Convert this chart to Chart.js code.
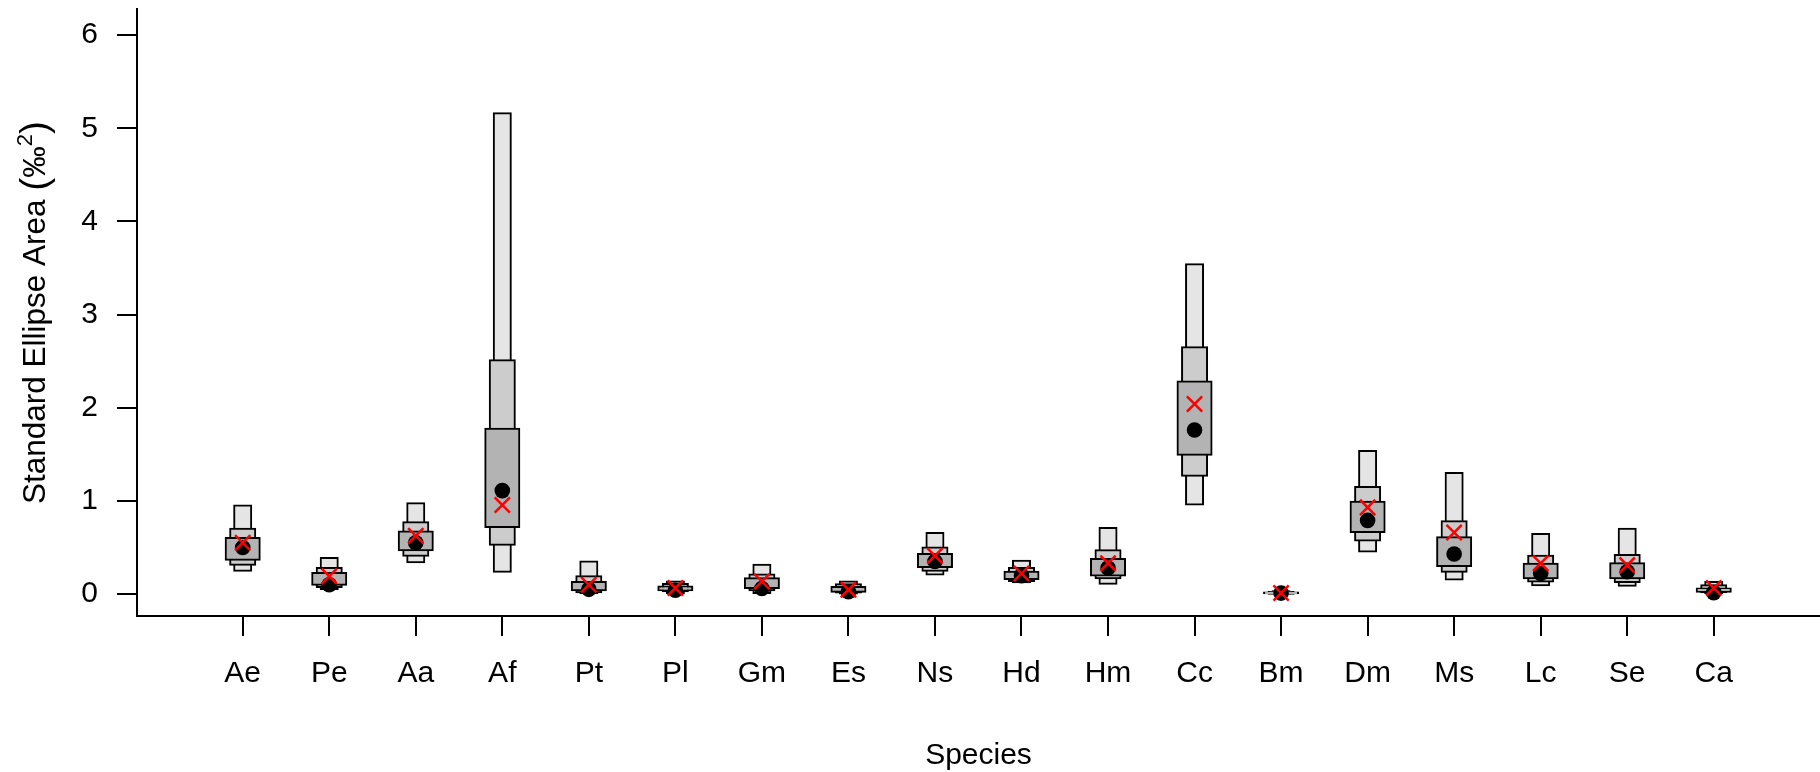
<!DOCTYPE html>
<html>
<head>
<meta charset="utf-8">
<title>Standard Ellipse Area by species</title>
<script src="https://cdn.jsdelivr.net/npm/chart.js@4/dist/chart.umd.min.js"></script>
<style>
  html, body { margin: 0; padding: 0; background: #ffffff; overflow: hidden; }
  #wrap { width: 1820px; height: 772px; position: relative; }
  #sea { display: block; }
</style>
</head>
<body>
<div id="wrap"><canvas id="sea" width="1820" height="772"></canvas></div>
<script>
// Species codes along the x axis
const categories = ['Ae', 'Pe', 'Aa', 'Af', 'Pt', 'Pl', 'Gm', 'Es', 'Ns', 'Hd', 'Hm', 'Cc', 'Bm', 'Dm', 'Ms', 'Lc', 'Se', 'Ca'];

// Bayesian SEA credible intervals (‰²)
const ci95Low  = [0.25, 0.054, 0.34, 0.24, 0.01, 0.01, 0.01, 0.005, 0.21, 0.125, 0.11, 0.96, 0.000, 0.457, 0.155, 0.095, 0.09, 0.01];
const ci95High = [0.95, 0.386, 0.975, 5.16, 0.35, 0.135, 0.314, 0.135, 0.655, 0.357, 0.71, 3.54, 0.030, 1.535, 1.30, 0.645, 0.70, 0.13];
const ci75Low  = [0.314, 0.075, 0.41, 0.53, 0.02, 0.03, 0.04, 0.015, 0.25, 0.14, 0.17, 1.27, 0.004, 0.575, 0.24, 0.135, 0.13, 0.02];
const ci75High = [0.70, 0.28, 0.77, 2.51, 0.19, 0.107, 0.21, 0.105, 0.50, 0.28, 0.47, 2.65, 0.022, 1.15, 0.78, 0.41, 0.42, 0.095];
const ci50Low  = [0.368, 0.10, 0.47, 0.72, 0.04, 0.04, 0.064, 0.025, 0.29, 0.16, 0.20, 1.494, 0.007, 0.665, 0.30, 0.17, 0.17, 0.025];
const ci50High = [0.60, 0.225, 0.67, 1.775, 0.13, 0.08, 0.17, 0.075, 0.43, 0.24, 0.375, 2.28, 0.016, 0.99, 0.61, 0.325, 0.33, 0.06];

// Posterior mode of SEA (black dot) and sample-size corrected SEAc (red cross)
const modeSEA    = [0.50, 0.10, 0.55, 1.11, 0.05, 0.04, 0.06, 0.025, 0.35, 0.196, 0.28, 1.76, 0.01, 0.79, 0.43, 0.22, 0.24, 0.015];
const sampleSEAc = [0.55, 0.19, 0.625, 0.955, 0.10, 0.065, 0.135, 0.045, 0.41, 0.22, 0.33, 2.04, 0.01, 0.93, 0.66, 0.33, 0.31, 0.065];

// Y axis tick values
const yTickValues = [0, 1, 2, 3, 4, 5, 6];

const FAMILY = '"Liberation Sans", Arial, Helvetica, sans-serif';
const FONT = { family: FAMILY, size: 30 };

const intervalBars = (label, lows, highs, fill, width, order) => ({
  type: 'bar',
  label,
  data: categories.map((_, i) => ({ x: i + 1, y: [lows[i], highs[i]] })),
  backgroundColor: fill,
  borderColor: '#000000',
  borderWidth: 2,
  borderSkipped: false,
  inflateAmount: 1,
  barThickness: width,
  grouped: false,
  order
});

const markers = (label, values, style) => Object.assign({
  type: 'line',
  label,
  data: categories.map((_, i) => ({ x: i + 1, y: values[i] })),
  showLine: false
}, style);

// Y axis title with enlarged brackets and a superscript exponent
const yTitlePlugin = {
  id: 'yTitle',
  afterDraw(chart) {
    const { ctx, chartArea } = chart;
    const parts = [
      { text: 'Standard Ellipse Area ', size: 31.5, dy: 0 },
      { text: '(', size: 39, dy: 2 },
      { text: '‰', size: 31.5, dy: 0 },
      { text: '2', size: 22, dy: -13.5 },
      { text: ')', size: 39, dy: 2 }
    ];
    ctx.save();
    let total = 0;
    parts.forEach((p) => {
      ctx.font = `${p.size}px ${FAMILY}`;
      p.w = ctx.measureText(p.text).width;
      total += p.w;
    });
    ctx.translate(34, (chartArea.top + chartArea.bottom) / 2);
    ctx.rotate(-Math.PI / 2);
    ctx.fillStyle = '#000000';
    ctx.textAlign = 'left';
    ctx.textBaseline = 'alphabetic';
    let x = -total / 2;
    parts.forEach((p) => {
      ctx.font = `${p.size}px ${FAMILY}`;
      ctx.fillText(p.text, x, 11.2 + p.dy);
      x += p.w;
    });
    ctx.restore();
  }
};

new Chart(document.getElementById('sea'), {
  type: 'bar',
  data: {
    datasets: [
      markers('SEAc', sampleSEAc, {
        pointStyle: 'crossRot', pointRadius: 10.8, pointBorderColor: '#FF0000',
        pointBorderWidth: 2.5, pointBackgroundColor: '#FF0000', order: 0
      }),
      markers('Mode', modeSEA, {
        pointStyle: 'circle', pointRadius: 7.8, pointBackgroundColor: '#000000',
        pointBorderWidth: 0, pointBorderColor: '#000000', order: 1
      }),
      intervalBars('50%', ci50Low, ci50High, '#B3B3B3', 34, 2),
      intervalBars('75%', ci75Low, ci75High, '#CCCCCC', 25, 3),
      intervalBars('95%', ci95Low, ci95High, '#E5E5E5', 17, 4)
    ]
  },
  options: {
    responsive: false,
    animation: false,
    events: [],
    layout: { autoPadding: false, padding: { top: 9, right: 0, bottom: 0, left: 0 } },
    plugins: { legend: { display: false }, tooltip: { enabled: false } },
    scales: {
      x: {
        type: 'linear',
        offset: false,
        min: -0.2215,
        max: 19.228,
        afterBuildTicks: (scale) => { scale.ticks = categories.map((_, i) => ({ value: i + 1 })); },
        afterFit: (scale) => { scale.height = 156; scale.paddingLeft = 0; scale.paddingRight = 0; },
        ticks: {
          callback: (v) => categories[v - 1],
          autoSkip: false, maxRotation: 0, minRotation: 0,
          color: '#000000', font: FONT, padding: 20
        },
        grid: {
          offset: false, drawOnChartArea: false, drawTicks: true, tickLength: 20,
          tickColor: '#000000', tickWidth: 2, color: '#000000', lineWidth: 2
        },
        border: { display: true, color: '#000000', width: 2 },
        title: {
          display: true, text: 'Species', color: '#000000',
          font: { family: FAMILY, size: 30, lineHeight: 1 }, padding: { top: 0, bottom: 1.5 }
        }
      },
      y: {
        type: 'linear',
        min: -0.236,
        max: 6.28,
        afterBuildTicks: (scale) => { scale.ticks = yTickValues.map((v) => ({ value: v })); },
        afterFit: (scale) => { scale.width = 137; scale.paddingTop = 0; scale.paddingBottom = 0; },
        ticks: { color: '#000000', font: FONT, padding: 19 },
        grid: {
          drawOnChartArea: false, drawTicks: true, tickLength: 20,
          tickColor: '#000000', tickWidth: 2, color: '#000000', lineWidth: 2
        },
        border: { display: true, color: '#000000', width: 2 },
        title: { display: false }
      }
    }
  },
  plugins: [yTitlePlugin]
});
</script>
</body>
</html>
